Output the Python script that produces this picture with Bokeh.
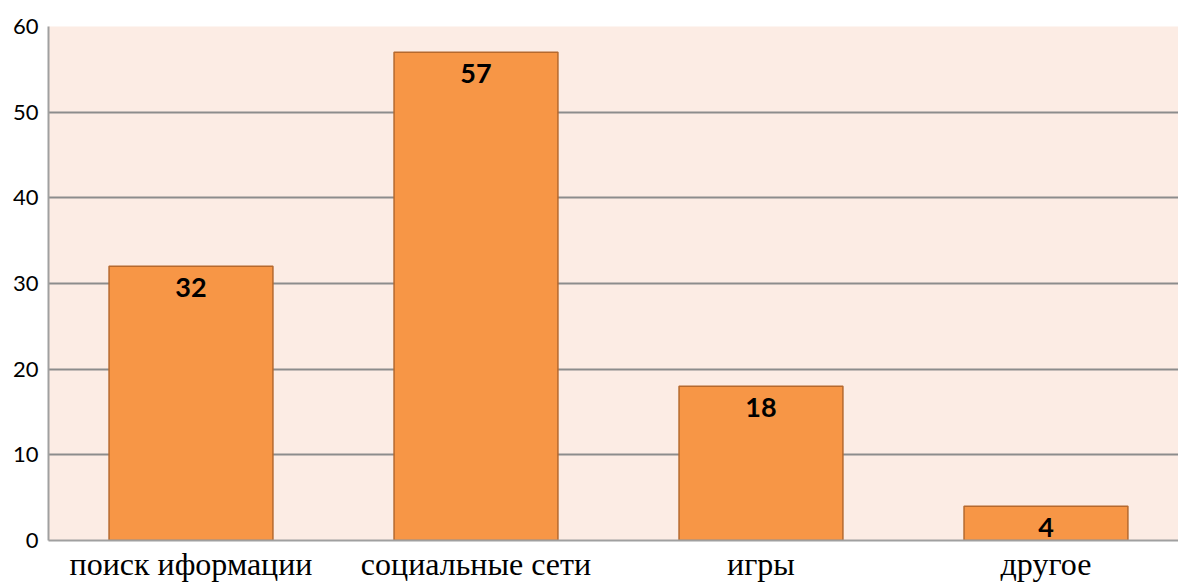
from bokeh.plotting import figure
from bokeh.models import Range1d, FixedTicker, ColumnDataSource
from bokeh.core.properties import value
from bokeh.embed import file_html
from bokeh.resources import INLINE

categories = ["поиск иформации", "социальные сети", "игры", "другое"]
values = [32, 57, 18, 4]
y_ticks = [0, 10, 20, 30, 40, 50, 60]

xs = [i + 0.5 for i in range(len(categories))]
src = ColumnDataSource(dict(x=xs, top=values, label=[str(v) for v in values]))

p = figure(width=1178, height=584, output_backend="svg", toolbar_location=None,
           x_range=Range1d(0, 3.965), y_range=Range1d(0, 60),
           min_border_left=48, min_border_top=26, min_border_right=0, min_border_bottom=41)
p.border_fill_color = "white"
p.outline_line_color = None
p.background_fill_color = "#FCECE4"

p.vbar(x="x", top="top", bottom=0, width=0.575, source=src,
       fill_color="#F79646", line_color="#B5692E", line_width=1.5)
p.text(x="x", y="top", text="label", source=src, text_align="center",
       text_baseline="middle", y_offset=21, text_font=value("Lato"),
       text_font_style="bold", text_font_size="27px", text_color="black")

p.xgrid.grid_line_color = None
p.ygrid.ticker = FixedTicker(ticks=y_ticks)
p.ygrid.grid_line_color = "#8C8C8C"
p.ygrid.grid_line_width = 1.8

p.yaxis.ticker = FixedTicker(ticks=y_ticks)
p.yaxis.axis_line_color = "#A0A0A0"
p.yaxis.axis_line_width = 2
p.yaxis.major_tick_line_color = None
p.yaxis.minor_tick_line_color = None
p.yaxis.major_tick_out = 0
p.yaxis.major_tick_in = 0
p.yaxis.minor_tick_out = 0
p.yaxis.major_label_text_font = "Lato"
p.yaxis.major_label_text_font_size = "22px"
p.yaxis.major_label_text_color = "black"
p.yaxis.major_label_standoff = 10

p.xaxis.ticker = FixedTicker(ticks=xs)
p.xaxis.major_label_overrides = {x: c for x, c in zip(xs, categories)}
p.xaxis.axis_line_color = "#A0A0A0"
p.xaxis.axis_line_width = 2
p.xaxis.major_tick_line_color = None
p.xaxis.minor_tick_line_color = None
p.xaxis.major_tick_out = 0
p.xaxis.major_tick_in = 0
p.xaxis.minor_tick_out = 0
p.xaxis.major_label_text_font = "Liberation Serif"
p.xaxis.major_label_text_font_size = "32px"
p.xaxis.major_label_text_color = "black"
p.xaxis.major_label_standoff = 5

open("out.html", "w").write(file_html(p, INLINE))
